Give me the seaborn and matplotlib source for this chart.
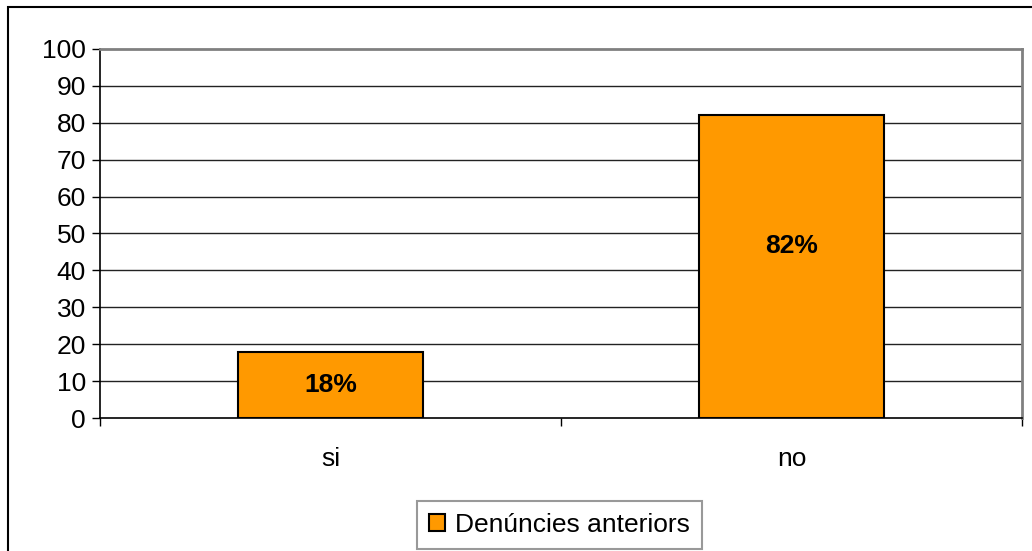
import numpy as np
import pandas as pd
import matplotlib
matplotlib.use('Agg')
import matplotlib.pyplot as plt
import matplotlib.patches as mpatches
import seaborn as sns

categories = ['si', 'no']
values = [18, 82]
labels = ['18%', '82%']
label_y = [9, 46.5]
series_name = 'Denúncies anteriors'

df = pd.DataFrame({'cat': categories, 'val': values})

sns.set_style('white')
plt.rcParams['font.family'] = ['Liberation Sans', 'DejaVu Sans']
plt.rcParams['text.color'] = 'black'
plt.rcParams['xtick.color'] = 'black'
plt.rcParams['ytick.color'] = 'black'

fig = plt.figure(figsize=(10.32, 5.51), dpi=100)
ax = fig.add_axes([100/1032, (551-418)/551, 922/1032, 369/551])

sns.barplot(data=df, x='cat', y='val', color='#FF9900', edgecolor='black',
            linewidth=1.5, width=0.40, saturation=1, ax=ax)

fs = 19
ax.set_ylim(0, 100)
ax.set_xlim(-0.5, 1.5)
ax.set_yticks(np.arange(0, 101, 10))
ax.set_yticklabels([str(t) for t in range(0, 101, 10)], fontsize=fs)
ax.set_axisbelow(True)
for t in range(10, 100, 10):
    ax.axhline(t, color='#222222', linewidth=1, zorder=0)
ax.set_xlabel('')
ax.set_ylabel('')

# category ticks between groups, labels centred
ax.set_xticks([-0.5, 0.5, 1.5])
ax.set_xticklabels(['', '', ''])
ax.set_xticks([0, 1], minor=True)
ax.set_xticklabels(categories, minor=True, fontsize=fs)
ax.tick_params(axis='x', which='major', direction='out', length=6, width=1, color='black', bottom=True)
ax.tick_params(axis='x', which='minor', length=0, pad=21)
ax.tick_params(axis='y', direction='out', length=6, width=1, color='black', left=True, pad=4)

for s in ['left', 'bottom']:
    ax.spines[s].set_color('black')
    ax.spines[s].set_linewidth(1.2)
for s in ['top', 'right']:
    ax.spines[s].set_visible(True)
    ax.spines[s].set_color('#808080')
    ax.spines[s].set_linewidth(2)

for i, (lab, yy) in enumerate(zip(labels, label_y)):
    ax.text(i, yy, lab, ha='center', va='center', fontsize=fs, fontweight='bold', color='black')

handle = mpatches.Patch(facecolor='#FF9900', edgecolor='black', linewidth=1.5, label=series_name)
leg = fig.legend(handles=[handle], loc='center', bbox_to_anchor=(559.5/1032, (551-525)/551),
                 fontsize=fs, frameon=True, fancybox=False, handlelength=0.6, handleheight=0.6,
                 handletextpad=0.4, borderpad=0.45)
leg.get_frame().set_edgecolor('#808080')
leg.get_frame().set_linewidth(1.5)

# outer chart border
fig.patches.append(mpatches.Rectangle((8/1032, -0.05), 1.1, (551-7)/551 + 0.05,
                                      transform=fig.transFigure, fill=False,
                                      edgecolor='black', linewidth=1.5))

fig.savefig('out.png', dpi=100)
